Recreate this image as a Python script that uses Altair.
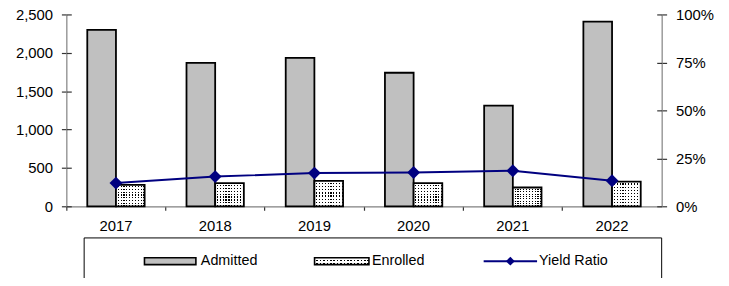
import altair as alt
import pandas as pd

years = ["2017", "2018", "2019", "2020", "2021", "2022"]
admitted = [2299, 1869, 1933, 1740, 1311, 2406]
enrolled = [280, 301, 331, 301, 245, 322]
yield_ratio = [0.121, 0.155, 0.173, 0.176, 0.185, 0.133]
series = ["Admitted", "Enrolled"]
left_ticks = [0, 500, 1000, 1500, 2000, 2500]
right_ticks = [0, 0.25, 0.5, 0.75, 1.0]

FONT = "Liberation Sans"
NAVY = "#000080"
GRAY = "#c0c0c0"
TICK = "#333333"

long_df = pd.DataFrame(
    {"year": years * 2,
     "series": ["Admitted"] * len(years) + ["Enrolled"] * len(years),
     "value": admitted + enrolled}
)
wide_df = pd.DataFrame({"year": years, "yield": yield_ratio})
one = pd.DataFrame({"k": [0]})


def stripes(n, frac_white, along_x):
    stops = []
    for i in range(n):
        a = i / n
        b = (i + frac_white) / n
        c = (i + 1) / n
        stops += [
            alt.GradientStop(color="white", offset=a),
            alt.GradientStop(color="white", offset=b),
            alt.GradientStop(color="rgba(255,255,255,0)", offset=b),
            alt.GradientStop(color="rgba(255,255,255,0)", offset=c),
        ]
    if along_x:
        return alt.LinearGradient(gradient="linear", stops=stops, x1=0, x2=1, y1=0, y2=0)
    return alt.LinearGradient(gradient="linear", stops=stops, x1=0, x2=0, y1=0, y2=1)


xscale = alt.Scale(paddingInner=0, paddingOuter=0)
x_enc = alt.X(
    "year:N",
    sort=years,
    scale=xscale,
    axis=alt.Axis(title=None, bandPosition=0, labelAngle=0, tickSize=4, labelPadding=8),
)
xoff_enc = alt.XOffset(
    "series:N", scale=alt.Scale(domain=series, paddingInner=0, paddingOuter=0.73)
)
y_enc = alt.Y(
    "value:Q",
    scale=alt.Scale(domain=[0, 2500]),
    axis=alt.Axis(title=None, values=left_ticks, format=",d", tickSize=5, labelPadding=9),
)

base = alt.Chart(long_df).encode(x=x_enc, xOffset=xoff_enc, y=y_enc)

adm = base.transform_filter(alt.datum.series == "Admitted").mark_bar(
    fill=GRAY, stroke="black", strokeWidth=1.8
)
enr_f = base.transform_filter(alt.datum.series == "Enrolled")
enr_black = enr_f.mark_bar(fill="black")
enr_h = enr_f.mark_bar(fill=stripes(8, 0.6, False))
enr_v = enr_f.mark_bar(fill=stripes(10, 0.6, True), stroke="black", strokeWidth=1.8)

bars = alt.layer(adm, enr_black, enr_h, enr_v)

line_base = alt.Chart(wide_df).encode(
    x=alt.X("year:N", sort=years),
    y=alt.Y(
        "yield:Q",
        scale=alt.Scale(domain=[0, 1]),
        axis=alt.Axis(title=None, orient="right", values=right_ticks, format=".0%",
                      tickSize=5, labelPadding=9),
    ),
)
line = line_base.mark_line(color=NAVY, strokeWidth=2)
pts = line_base.mark_point(shape="diamond", filled=True, size=169, color=NAVY, opacity=1)
lines = alt.layer(line, pts)

# inner halves of the crossing tick marks
yl_in = alt.Chart(long_df).mark_point(opacity=0).encode(
    y=alt.Y("value:Q", scale=alt.Scale(domain=[0, 2500]),
            axis=alt.Axis(title=None, orient="left", offset=-5, values=left_ticks,
                          labels=False, domain=False, tickSize=5))
)
yr_in = alt.Chart(wide_df).mark_point(opacity=0).encode(
    y=alt.Y("yield:Q", scale=alt.Scale(domain=[0, 1]),
            axis=alt.Axis(title=None, orient="right", offset=-5, values=right_ticks,
                          labels=False, domain=False, tickSize=5))
)
x_in = alt.Chart(wide_df).mark_point(opacity=0).encode(
    x=alt.X("year:N", sort=years, scale=alt.Scale(paddingInner=0, paddingOuter=0),
            axis=alt.Axis(title=None, orient="bottom", offset=-4, bandPosition=0,
                          labels=False, domain=False, tickSize=4))
)

main = alt.layer(bars, lines, yl_in, yr_in).resolve_scale(y="independent")

# legend (layout only)
LY = 249.5
leg = alt.Chart(one)
box = leg.mark_rect(fill="white", stroke="black", strokeWidth=1).encode(
    x=alt.value(18), x2=alt.value(602), y=alt.value(226), y2=alt.value(280)
)
sw_adm = leg.mark_rect(fill=GRAY, stroke="black", strokeWidth=1.6).encode(
    x=alt.value(79), x2=alt.value(131), y=alt.value(LY - 3.5), y2=alt.value(LY + 3.5)
)
sw_enr0 = leg.mark_rect(fill="black").encode(
    x=alt.value(251), x2=alt.value(306), y=alt.value(LY - 3.5), y2=alt.value(LY + 3.5)
)
sw_enr1 = leg.mark_rect(fill=stripes(2, 0.55, False)).encode(
    x=alt.value(251), x2=alt.value(306), y=alt.value(LY - 3.5), y2=alt.value(LY + 3.5)
)
sw_enr2 = leg.mark_rect(fill=stripes(16, 0.55, True), stroke="black", strokeWidth=1.6).encode(
    x=alt.value(251), x2=alt.value(306), y=alt.value(LY - 3.5), y2=alt.value(LY + 3.5)
)
sw_line = leg.mark_rule(color=NAVY, strokeWidth=2).encode(
    x=alt.value(422), x2=alt.value(476), y=alt.value(LY)
)
sw_pt = leg.mark_point(shape="diamond", filled=True, size=81, color=NAVY, opacity=1).encode(
    x=alt.value(449), y=alt.value(LY)
)


def label(txt, xpos):
    return leg.mark_text(align="left", baseline="middle", font=FONT, fontSize=14.5,
                         fontWeight="normal", color="black").encode(
        x=alt.value(xpos), y=alt.value(LY), text=alt.value(txt)
    )


legend = alt.layer(box, sw_adm, sw_enr0, sw_enr1, sw_enr2, sw_line, sw_pt,
                   label("Admitted", 136), label("Enrolled", 309), label("Yield Ratio", 478))

chart = (
    alt.layer(main, x_in, legend)
    .resolve_scale(x="independent")
    .properties(
        width=602,
        height=194,
        autosize=alt.AutoSizeParams(type="none"),
        padding={"left": 59, "top": 5, "right": 60, "bottom": 71},
    )
    .configure_axis(
        labelFont=FONT, labelFontSize=15, labelFontWeight="normal", labelColor="black",
        domainColor="#808080", tickColor=TICK, grid=False,
        domainWidth=1.2, tickWidth=1.2,
    )
    .configure_view(stroke=None)
)

chart.save("out.html", embed_options={"renderer": "svg", "actions": False})
